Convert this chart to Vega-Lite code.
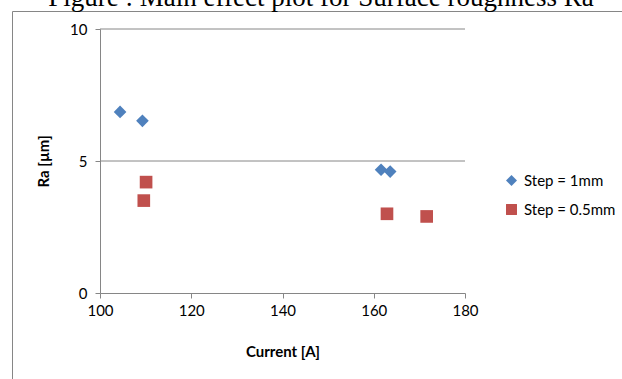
{
  "$schema": "https://vega.github.io/schema/vega-lite/v6.json",
  "autosize": {"type": "none"},
  "width": 620,
  "height": 378,
  "padding": {"left": 12, "top": 11, "right": -10, "bottom": -10},
  "background": "white",
  "title": {
    "text": "Figure : Main effect plot for Surface roughness Ra",
    "font": "Liberation Serif",
    "fontSize": 27,
    "fontWeight": "normal",
    "color": "black",
    "anchor": "middle",
    "frame": "group",
    "dx": -1,
    "offset": 0,
    "dy": 22,
    "baseline": "alphabetic"
  },
  "layer": [
    {
      "data": {"values": [{"v": 5}, {"v": 10}]},
      "mark": {"type": "rule", "color": "#868686", "strokeWidth": 1},
      "encoding": {
        "x": {"datum": 100, "type": "quantitative", "scale": {"domain": [100, 180], "range": [88, 453], "nice": false, "zero": false}},
        "x2": {"datum": 180},
        "y": {"field": "v", "type": "quantitative"}
      }
    },
    {
      "data": {
        "values": [
          {"current": 104.4, "ra": 6.86, "series": "Step = 1mm"},
          {"current": 109.3, "ra": 6.52, "series": "Step = 1mm"},
          {"current": 161.6, "ra": 4.67, "series": "Step = 1mm"},
          {"current": 163.6, "ra": 4.6, "series": "Step = 1mm"},
          {"current": 110.1, "ra": 4.2, "series": "Step = 0.5mm"},
          {"current": 109.6, "ra": 3.5, "series": "Step = 0.5mm"},
          {"current": 162.9, "ra": 3.0, "series": "Step = 0.5mm"},
          {"current": 171.6, "ra": 2.9, "series": "Step = 0.5mm"}
        ]
      },
      "mark": {"type": "point", "filled": true, "opacity": 1, "size": 160},
      "encoding": {
        "x": {
          "field": "current",
          "type": "quantitative",
          "scale": {"domain": [100, 180], "range": [88, 453], "nice": false, "zero": false},
          "axis": {
            "title": "Current [A]",
            "values": [100, 120, 140, 160, 180],
            "grid": false,
            "labelFlush": false,
            "offset": -96,
            "tickSize": 5,
            "labelPadding": 5,
            "titlePadding": 26
          }
        },
        "y": {
          "field": "ra",
          "type": "quantitative",
          "scale": {"domain": [0, 10], "range": [282, 18], "nice": false, "zero": false},
          "axis": {
            "title": "Ra [µm]",
            "values": [0, 5, 10],
            "grid": false,
            "labelFlush": false,
            "offset": -88,
            "tickSize": 5,
            "labelPadding": 8,
            "titlePadding": 18
          }
        },
        "color": {
          "field": "series",
          "type": "nominal",
          "scale": {"domain": ["Step = 1mm", "Step = 0.5mm"], "range": ["#4F81BD", "#C0504D"]},
          "legend": {
            "title": null,
            "orient": "none",
            "legendX": 492,
            "legendY": 162,
            "rowPadding": 13,
            "symbolSize": 120,
            "labelFontSize": 15,
            "labelFont": "Lato",
            "labelColor": "black",
            "labelOffset": 5,
            "symbolStrokeWidth": 0
          }
        },
        "shape": {
          "field": "series",
          "type": "nominal",
          "scale": {"domain": ["Step = 1mm", "Step = 0.5mm"], "range": ["diamond", "square"]},
          "legend": null
        }
      }
    }
  ],
  "config": {
    "view": {"stroke": "#868686", "strokeWidth": 1},
    "axis": {
      "domainColor": "#868686",
      "tickColor": "#868686",
      "labelFont": "Lato",
      "labelFontSize": 15,
      "labelColor": "black",
      "titleFont": "Lato",
      "titleFontSize": 15,
      "titleFontWeight": "bold",
      "titleColor": "black"
    }
  }
}
